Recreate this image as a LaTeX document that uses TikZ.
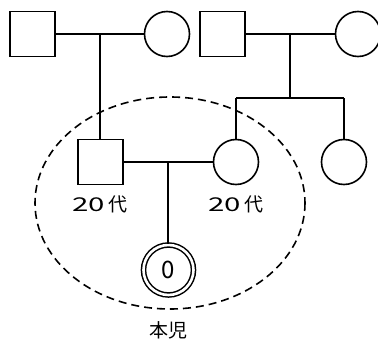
\documentclass[tikz,border=0pt]{standalone}
\usepackage{fontspec}
\setmainfont{Noto Sans CJK JP}
\newfontfamily\numfont[FakeStretch=1.55]{Noto Sans CJK JP}
\usetikzlibrary{positioning}

\tikzset{
  male/.style={draw, line width=1.6pt, minimum size=45pt, inner sep=0pt},
  female/.style={draw, circle, line width=1.6pt, minimum size=45pt, inner sep=0pt},
  self/.style={draw, circle, line width=1.5pt, double, double distance=2.6pt, minimum size=50pt, inner sep=0pt},
  tag/.style={font=\fontsize{19}{21}\selectfont, inner sep=0pt},
  link/.style={line width=1.6pt}
}

\begin{document}
\begin{tikzpicture}[x=1pt, y=-1pt]
    \useasboundingbox (0,0) rectangle (378,340);
    \clip (0,0) rectangle (378,340);

    % Grandparents
    \node[male] (gf1) at (32.5,34) {};
    \node[female] (gm1) at (167,34) {};
    \node[male] (gf2) at (222.5,34) {};
    \node[female] (gm2) at (358,34) {};

    % Parents and aunt
    \node[male] (father) at (100.5,162) {};
    \node[female] (mother) at (236,162) {};
    \node[female] (aunt) at (344,162) {};

    % Proband
    \node[self, font=\fontsize{24}{26}\selectfont] (child) at (168.5,270) {0};

    % Marriage lines
    \draw[link] (gf1) -- coordinate (m1) (gm1);
    \draw[link] (gf2) -- coordinate (m2) (gm2);
    \draw[link] (father) -- coordinate (m3) (mother);

    % Descent lines
    \coordinate (sib) at (290,98);
    \draw[link] (m1) -- (m1 |- father.north);
    \draw[link] (m2) -- (m2 |- sib);
    \draw[link] (mother.north |- sib) -- (aunt.north |- sib);
    \draw[link] (mother.north |- sib) -- (mother);
    \draw[link] (aunt.north |- sib) -- (aunt);
    \draw[link] (m3) -- (m3 |- child.north);

    % Ages
    \node[tag] (agef) at (100,204) {{\numfont 20}\,代};
    \node[tag] (agem) at (236,204) {{\numfont 20}\,代};

    % Household
    \draw[line width=1.6pt, dash pattern=on 8pt off 5pt] (170,203) ellipse [x radius=135, y radius=106];
    \node[tag] (label) at (168,330) {本児};

\end{tikzpicture}
\end{document}
